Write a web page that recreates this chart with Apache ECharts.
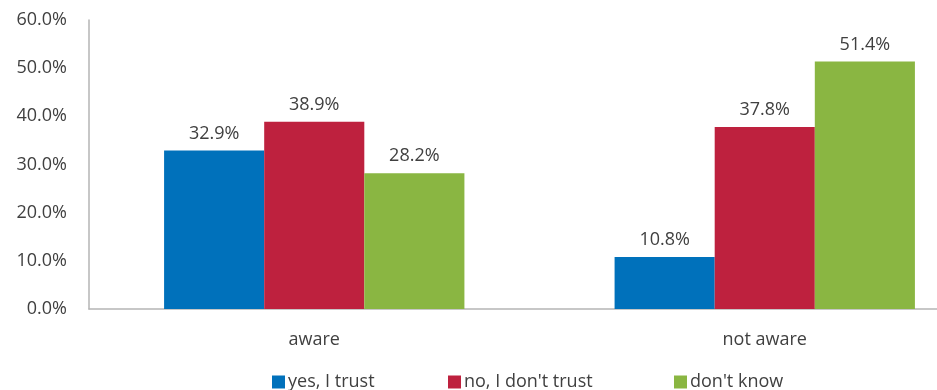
<!DOCTYPE html>
<html>
<head>
<meta charset="utf-8">
<script src="https://cdn.jsdelivr.net/npm/echarts@6/dist/echarts.min.js"></script>
<style>
  html, body { margin: 0; padding: 0; background: #fff; overflow: hidden; width: 937px; height: 390px; }
  /* the plot runs past the right edge of the window, so the canvas is wider than the view */
  #chart { width: 990px; height: 390px; }
</style>
</head>
<body>
<div id="chart"></div>
<script>
const categories = ['aware', 'not aware'];
const seriesNames = ['yes, I trust', "no, I don't trust", "don't know"];
const yesTrust = [32.9, 10.8];
const noTrust = [38.9, 37.8];
const dontKnow = [28.2, 51.4];
const yTicks = [0, 10, 20, 30, 40, 50, 60];

const colors = ['#0071BB', '#BE213E', '#8AB642'];
const fontFamily = '"Open Sans", "DejaVu Sans", sans-serif';
const textColor = '#404040';
const fontSize = 18;

const chart = echarts.init(document.getElementById('chart'), null, { renderer: 'canvas' });

function barSeries(name, data, color) {
  return {
    name: name,
    type: 'bar',
    data: data,
    barGap: '0%',
    barCategoryGap: '33.333%',
    itemStyle: { color: color },
    label: {
      show: true,
      position: 'top',
      distance: 8,
      formatter: p => p.value.toFixed(1) + '%',
      color: textColor,
      fontFamily: fontFamily,
      fontSize: fontSize
    }
  };
}

function legendAt(left, name) {
  return {
    data: [name],
    left: left,
    top: 368,
    itemWidth: 13,
    itemHeight: 13,
    itemGap: 0,
    icon: 'rect',
    textStyle: { color: textColor, fontFamily: fontFamily, fontSize: fontSize, padding: [0, 0, 0, -2] }
  };
}

chart.setOption({
  animation: false,
  grid: { left: 89, right: 0, top: 20, bottom: 81, containLabel: false },
  legend: [
    legendAt(267, seriesNames[0]),
    legendAt(443, seriesNames[1]),
    legendAt(669, seriesNames[2])
  ],
  xAxis: {
    type: 'category',
    data: categories,
    axisLine: { show: true, lineStyle: { color: '#B5B5B5', width: 1.5 } },
    axisTick: { show: false },
    axisLabel: { color: textColor, fontFamily: fontFamily, fontSize: fontSize, margin: 22 }
  },
  yAxis: {
    type: 'value',
    min: yTicks[0],
    max: yTicks[yTicks.length - 1],
    interval: 10,
    axisLine: { show: true, lineStyle: { color: '#B5B5B5', width: 1.5 } },
    axisTick: { show: false },
    splitLine: { show: false },
    axisLabel: {
      color: textColor,
      fontFamily: fontFamily,
      fontSize: fontSize,
      margin: 22,
      formatter: v => v.toFixed(1) + '%'
    }
  },
  series: [
    barSeries(seriesNames[0], yesTrust, colors[0]),
    barSeries(seriesNames[1], noTrust, colors[1]),
    barSeries(seriesNames[2], dontKnow, colors[2])
  ]
});
</script>
</body>
</html>
